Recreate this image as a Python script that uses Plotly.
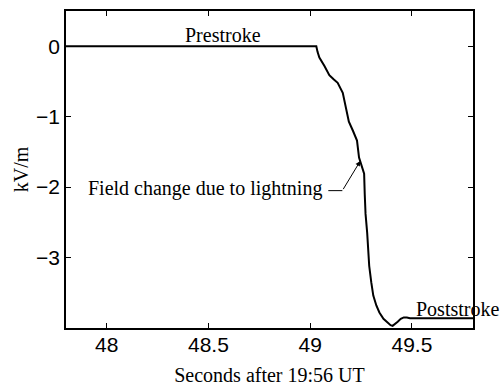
import plotly.graph_objects as go

# Field record (seconds after 19:56 UT, kV/m)
t_sec = [47.8, 48.5, 49.03, 49.036, 49.045, 49.07, 49.094, 49.115, 49.135, 49.16, 49.175,
         49.19, 49.21, 49.23, 49.24, 49.255, 49.265, 49.268, 49.272, 49.28, 49.29,
         49.30, 49.31, 49.325, 49.34, 49.36, 49.38, 49.395, 49.405, 49.415, 49.43,
         49.445, 49.46, 49.475, 49.49, 49.6, 49.8]
field_kvm = [0.0, 0.0, 0.0, -0.08, -0.16, -0.28, -0.41, -0.47, -0.52, -0.66, -0.85,
             -1.07, -1.2, -1.34, -1.58, -1.7, -1.81, -2.1, -2.38, -2.65, -3.12,
             -3.35, -3.54, -3.68, -3.78, -3.87, -3.93, -3.96, -3.97, -3.95, -3.91,
             -3.87, -3.85, -3.85, -3.86, -3.86, -3.86]

x_ticks = [48, 48.5, 49, 49.5]
y_ticks = [0, -1, -2, -3]
y_tick_text = ["0", "\u22121", "\u22122", "\u22123"]

serif = "Liberation Serif, Times New Roman, serif"
sans = "Liberation Sans, Arial, sans-serif"

fig = go.Figure()
fig.add_trace(go.Scatter(x=t_sec, y=field_kvm, mode="lines",
                         line=dict(color="black", width=2), showlegend=False,
                         hoverinfo="skip"))
# leader line for the annotation
fig.add_trace(go.Scatter(x=[49.089, 49.158], y=[-2.05, -2.05], mode="lines",
                         line=dict(color="black", width=1), showlegend=False,
                         hoverinfo="skip"))
fig.add_annotation(x=49.246, y=-1.63, ax=49.158, ay=-2.05, axref="x", ayref="y",
                   xref="x", yref="y", text="", showarrow=True, arrowhead=2,
                   arrowsize=1, arrowwidth=1, arrowcolor="black", standoff=0)
fig.add_annotation(x=49.07, y=-2.02, xref="x", yref="y", text="Field change due to lightning",
                   showarrow=False, xanchor="right",
                   font=dict(family=serif, size=20, color="black"))
fig.add_annotation(x=48.57, y=0.16, xref="x", yref="y", text="Prestroke",
                   showarrow=False, font=dict(family=serif, size=20, color="black"))
fig.add_annotation(x=49.51, y=-3.73, xref="x", yref="y", text="Poststroke",
                   showarrow=False, xanchor="left",
                   font=dict(family=serif, size=20, color="black"))

fig.update_layout(
    width=504, height=392,
    margin=dict(l=66, r=31, t=9, b=63),
    paper_bgcolor="white", plot_bgcolor="white",
    xaxis=dict(range=[47.8, 49.8], tickvals=x_ticks, ticktext=[str(v) for v in x_ticks],
               ticks="inside", ticklen=5, tickwidth=1, tickcolor="black",
               ticklabelstandoff=-3,
               showline=True, linecolor="black", linewidth=1.5, mirror="ticks",
               showgrid=False, zeroline=False,
               tickfont=dict(family=sans, size=21, color="black"),
               title=dict(text="Seconds after 19:56 UT", standoff=13,
                          font=dict(family=serif, size=20, color="black"))),
    yaxis=dict(range=[-4.0, 0.5], tickvals=y_ticks, ticktext=y_tick_text,
               ticks="inside", ticklen=5, tickwidth=1, tickcolor="black",
               showline=True, linecolor="black", linewidth=1.5, mirror="ticks",
               showgrid=False, zeroline=False,
               tickfont=dict(family=sans, size=21, color="black"),
               title=dict(text="kV/m", standoff=2,
                          font=dict(family=serif, size=20, color="black"))),
)

fig.write_html("out.html")
